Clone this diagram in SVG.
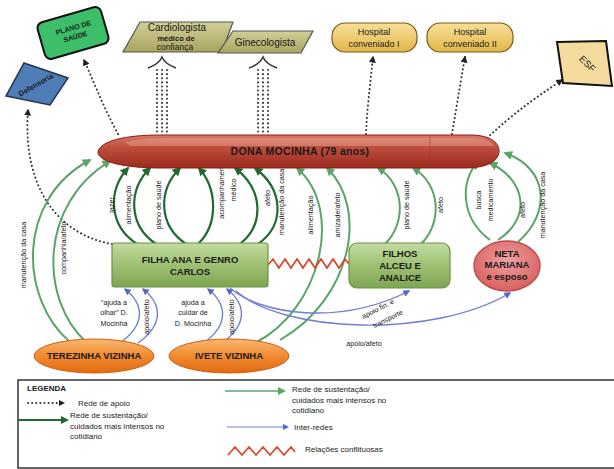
<svg xmlns="http://www.w3.org/2000/svg" width="614" height="469" viewBox="0 0 614 469">
<defs>
<style>
text{font-family:"Liberation Sans",Arial,sans-serif;fill:#1a1a1a}
.nb{font-weight:bold;font-size:9.5px;text-anchor:middle}
.lbl{font-size:7.2px;text-anchor:middle;fill:#222}
.dot{fill:none;stroke:#333;stroke-width:2;stroke-dasharray:0.1 4;stroke-linecap:round}
.dg{fill:none;stroke:#1f6a30;stroke-width:2.2}
.lg{fill:none;stroke:#5aa468;stroke-width:2}
.bl{fill:none;stroke:#6f7fd4;stroke-width:1.4}
.zz{fill:none;stroke:#e0401e;stroke-width:1.6}
.leg{font-size:8px;fill:#222}
</style>
<marker id="mk" viewBox="0 0 10 10" refX="8" refY="5" markerWidth="7" markerHeight="7" markerUnits="userSpaceOnUse" orient="auto"><path d="M0,0 L10,5 L0,10 Z" fill="#222"/></marker>
<marker id="mdg" viewBox="0 0 10 10" refX="8" refY="5" markerWidth="9" markerHeight="9" markerUnits="userSpaceOnUse" orient="auto"><path d="M0,0 L10,5 L0,10 Z" fill="#1f6a30"/></marker>
<marker id="mlg" viewBox="0 0 10 10" refX="8" refY="5" markerWidth="9" markerHeight="9" markerUnits="userSpaceOnUse" orient="auto"><path d="M0,0 L10,5 L0,10 Z" fill="#5aa468"/></marker>
<marker id="mbl" viewBox="0 0 10 10" refX="8" refY="5" markerWidth="7" markerHeight="7" markerUnits="userSpaceOnUse" orient="auto"><path d="M0,0 L10,5 L0,10 Z" fill="#5566cc"/></marker>
<linearGradient id="gRed" x1="0" y1="0" x2="0" y2="1"><stop offset="0" stop-color="#d97a68"/><stop offset="0.35" stop-color="#c0503e"/><stop offset="1" stop-color="#9a2a1e"/></linearGradient>
<linearGradient id="gGreen" x1="0" y1="0" x2="0" y2="1"><stop offset="0" stop-color="#c3dca0"/><stop offset="0.5" stop-color="#9ec072"/><stop offset="1" stop-color="#7ea552"/></linearGradient>
<linearGradient id="gOr" x1="0" y1="0" x2="0" y2="1"><stop offset="0" stop-color="#f9b870"/><stop offset="0.5" stop-color="#f08a30"/><stop offset="1" stop-color="#e06a10"/></linearGradient>
<linearGradient id="gOl" x1="0" y1="0" x2="0" y2="1"><stop offset="0" stop-color="#d2cf98"/><stop offset="1" stop-color="#a9a45e"/></linearGradient>
<linearGradient id="gHos" x1="0" y1="0" x2="0" y2="1"><stop offset="0" stop-color="#f8e09a"/><stop offset="1" stop-color="#e4b648"/></linearGradient>
<radialGradient id="gPink" cx="0.5" cy="0.4" r="0.6"><stop offset="0" stop-color="#f0a0a0"/><stop offset="1" stop-color="#d8605e"/></radialGradient>
</defs>
<rect width="614" height="469" fill="#ffffff"/>

<g id="connectors">
  <path class="dot" d="M112,244 C60,235 22,190 28,110" marker-end="url(#mk)"/>
  <path class="dot" d="M118,134 C105,110 95,85 84,60" marker-end="url(#mk)"/>
  <path class="dot" d="M366,134 C367,110 370,85 373,57" marker-end="url(#mk)"/>
  <path class="dot" d="M452,134 C456,110 460,85 465,57" marker-end="url(#mk)"/>
  <path class="dot" d="M487,138 C515,112 535,98 562,80" marker-end="url(#mk)"/>
  <g>
    <path class="dot" d="M157,70 V134 M162,70 V134 M167,70 V134"/>
    <path d="M148,68 Q159,64 162,57 Q165,64 176,68" fill="none" stroke="#333" stroke-width="1.5"/>
    <path class="dot" d="M258,70 V134 M263,70 V134 M268,70 V134"/>
    <path d="M249,68 Q260,64 263,57 Q266,64 277,68" fill="none" stroke="#333" stroke-width="1.5"/>
  </g>
  <path class="dg" d="M137,244 C108,225 108,190 128,168" marker-end="url(#mdg)"/>
  <path class="dg" d="M156,244 C128,225 128,190 150,168" marker-end="url(#mdg)"/>
  <path class="dg" d="M186,244 C158,225 158,190 180,168" marker-end="url(#mdg)"/>
  <path class="dg" d="M198,244 C218,225 218,190 199,168" marker-end="url(#mdg)"/>
  <path class="dg" d="M240,244 C264,225 264,190 235,168" marker-end="url(#mdg)"/>
  <path class="dg" d="M258,244 C285,225 284,190 255,168" marker-end="url(#mdg)"/>
  <path class="lg" d="M70,342 C20,300 15,200 90,160" marker-end="url(#mlg)"/>
  <path class="lg" d="M86,342 C40,300 38,205 110,161" marker-end="url(#mlg)"/>
  <path class="lg" d="M255,343 C320,310 345,210 297,168" marker-end="url(#mlg)"/>
  <path class="lg" d="M280,340 C350,300 370,210 327,168" marker-end="url(#mlg)"/>
  <path class="lg" d="M384,245 C406,225 406,185 378,168" marker-end="url(#mlg)"/>
  <path class="lg" d="M420,245 C442,225 442,185 413,168" marker-end="url(#mlg)"/>
  <path class="lg" d="M490,240 C460,218 460,180 478,162" marker-end="url(#mlg)"/>
  <path class="lg" d="M498,240 C532,218 526,180 490,163" marker-end="url(#mlg)"/>
  <path class="lg" d="M518,242 C552,212 548,168 505,153" marker-end="url(#mlg)"/>
  <path class="bl" d="M120,343 C145,325 145,305 125,289" marker-end="url(#mbl)"/>
  <path class="bl" d="M138,343 C163,325 163,305 143,289" marker-end="url(#mbl)"/>
  <path class="bl" d="M204,343 C228,325 228,305 208,289" marker-end="url(#mbl)"/>
  <path class="bl" d="M222,343 C247,325 247,305 227,289" marker-end="url(#mbl)"/>
  <path class="bl" d="M230,288 C262,315 340,326 409,291" marker-end="url(#mbl)"/>
  <path class="bl" d="M236,291 C282,332 430,340 510,293" marker-end="url(#mbl)"/>
  <polyline class="zz" points="268,265 273,259 279,268 285,259 291,268 297,259 303,268 309,259 315,268 321,259 327,268 333,259 339,268 345,259 349,264"/>
  <g class="lbl">
    <text transform="translate(114,205) rotate(-90)">lazer</text>
    <text transform="translate(131,205) rotate(-90)">alimentação</text>
    <text transform="translate(161,205) rotate(-90)">plano de saúde</text>
    <text transform="translate(224,190) rotate(-90)">acompanhamento</text>
    <text transform="translate(236,190) rotate(-90)">médico</text>
    <text transform="translate(270,198) rotate(-90)">afeto</text>
    <text transform="translate(284,202) rotate(-90)">manutenção da casa</text>
    <text transform="translate(313,215) rotate(-90)">alimentação</text>
    <text transform="translate(340,215) rotate(-90)">amizade/afeto</text>
    <text transform="translate(409,205) rotate(-90)">plano de saúde</text>
    <text transform="translate(443,205) rotate(-90)">afeto</text>
    <text transform="translate(481,200) rotate(-90)">busca</text>
    <text transform="translate(493,200) rotate(-90)">medicamento</text>
    <text transform="translate(525,210) rotate(-90)">afeto</text>
    <text transform="translate(545,205) rotate(-90)">manutenção da casa</text>
    <text transform="translate(26,255) rotate(-90)">manutenção da casa</text>
    <text transform="translate(66,248) rotate(-90)">companhia/afeto</text>
    <text x="114" y="305">“ajuda a</text>
    <text x="114" y="315">olhar” D.</text>
    <text x="114" y="326">Mocinha</text>
    <text transform="translate(149,317) rotate(-90)">apoio/afeto</text>
    <text x="193" y="305">ajuda a</text>
    <text x="193" y="315">cuidar de</text>
    <text x="193" y="326">D. Mocinha</text>
    <text transform="translate(234,317) rotate(-90)">apoio/afeto</text>
    <text transform="translate(379,311) rotate(-27)">apoio fin. e</text>
    <text transform="translate(389,321) rotate(-27)">transporte</text>
    <text x="364" y="346">apoio/afeto</text>
  </g>
</g>

<g id="defensoria">
  <polygon points="24,63 68,78 50,105 6,96" fill="#4f7db8" stroke="#24344f" stroke-width="1.5"/>
  <text transform="translate(37,87) rotate(-30)" text-anchor="middle" font-size="7.5" font-weight="bold">Defensoria</text>
</g>
<g id="plano-saude">
  <rect x="40" y="14" width="66" height="38" rx="6" fill="#3dbf6a" stroke="#111" stroke-width="2" transform="rotate(-16 73 33)"/>
  <text transform="translate(74,30) rotate(-16)" text-anchor="middle" font-size="7" font-weight="bold">PLANO DE</text>
  <text transform="translate(76,39) rotate(-16)" text-anchor="middle" font-size="7" font-weight="bold">SAÚDE</text>
</g>
<g id="cardiologista">
  <polygon points="140,22 233,22 222,52 123,52" fill="url(#gOl)" stroke="#555" stroke-width="1.2"/>
  <text x="177" y="31" text-anchor="middle" font-size="10">Cardiologista</text>
  <text x="176" y="41" text-anchor="middle" font-size="7.5" font-weight="bold">médico de</text>
  <text x="175" y="50" text-anchor="middle" font-size="8.5">confiança</text>
</g>
<g id="ginecologista">
  <polygon points="233,31 313,31 301,53 218,53" fill="url(#gOl)" stroke="#555" stroke-width="1.2"/>
  <text x="265" y="46" text-anchor="middle" font-size="10">Ginecologista</text>
</g>
<g id="hospital1">
  <rect x="332" y="23" width="85" height="29" rx="13" fill="url(#gHos)" stroke="#7a5a10" stroke-width="1.2"/>
  <text x="374" y="35" text-anchor="middle" font-size="9" fill="#2a2000">Hospital</text>
  <text x="374" y="47" text-anchor="middle" font-size="9" fill="#2a2000">conveniado I</text>
</g>
<g id="hospital2">
  <rect x="427" y="23" width="86" height="29" rx="13" fill="url(#gHos)" stroke="#7a5a10" stroke-width="1.2"/>
  <text x="470" y="35" text-anchor="middle" font-size="9" fill="#2a2000">Hospital</text>
  <text x="470" y="47" text-anchor="middle" font-size="9" fill="#2a2000">conveniado II</text>
</g>
<g id="esf">
  <polygon points="557,42 606,41 612,86 563,83" fill="#f5dc9e" stroke="#111" stroke-width="2"/>
  <text transform="translate(585,66) rotate(45)" text-anchor="middle" font-size="9.5">ESF</text>
</g>

<g id="dona-mocinha">
  <path d="M98,152 C100,141 125,135 160,135 L470,135 C492,135 500,144 499,152 C498,161 488,168 465,168 L160,168 C125,168 98,162 98,152 Z" fill="url(#gRed)" stroke="#8a1e14" stroke-width="1"/>
  <path d="M125,142 C140,138 160,138 180,138 L470,138 C485,138 492,142 494,146 L130,146 Z" fill="#e6a090" opacity="0.5"/>
  <line x1="430" y1="136" x2="430" y2="167" stroke="#a33" stroke-width="0.8" opacity="0.6"/>
  <text x="300" y="155" text-anchor="middle" font-size="10.5" font-weight="bold" letter-spacing="0.3">DONA MOCINHA (79 anos)</text>
</g>
<g id="filha-ana">
  <rect x="112" y="243" width="156" height="44" rx="3" fill="url(#gGreen)" stroke="#6c9244" stroke-width="1.2"/>
  <text class="nb" x="190" y="263">FILHA ANA E GENRO</text>
  <text class="nb" x="190" y="275">CARLOS</text>
</g>
<g id="filhos">
  <rect x="349" y="243" width="101" height="45" rx="8" fill="url(#gGreen)" stroke="#6c9244" stroke-width="1.2"/>
  <text class="nb" x="400" y="257">FILHOS</text>
  <text class="nb" x="400" y="269">ALCEU E</text>
  <text class="nb" x="400" y="281">ANALICE</text>
</g>
<g id="neta">
  <ellipse cx="507" cy="266" rx="33" ry="25" fill="url(#gPink)" stroke="#c0504e" stroke-width="1.5"/>
  <text class="nb" x="507" y="257" font-size="8.5">NETA</text>
  <text class="nb" x="507" y="268" font-size="8.5">MARIANA</text>
  <text class="nb" x="507" y="280" font-size="8.5">e esposo</text>
</g>
<g id="terezinha">
  <ellipse cx="94" cy="356" rx="60" ry="17" fill="url(#gOr)" stroke="#d06010" stroke-width="1"/>
  <text class="nb" x="94" y="359" font-size="9">TEREZINHA VIZINHA</text>
</g>
<g id="ivete">
  <ellipse cx="229" cy="356" rx="60" ry="17" fill="url(#gOr)" stroke="#d06010" stroke-width="1"/>
  <text class="nb" x="229" y="359" font-size="9">IVETE VIZINHA</text>
</g>

<g id="legend">
  <rect x="18" y="380" width="600" height="88" fill="#fff" stroke="#333" stroke-width="1.5"/>
  <text x="27" y="391" font-size="8" font-weight="bold">LEGENDA</text>
  <path class="dot" d="M28,403 H58" stroke-width="1.5" stroke-dasharray="3 3"/>
  <path d="M59,400 L65,403 L59,406 Z" fill="#222"/>
  <text class="leg" x="78" y="406">Rede de apoio</text>
  <path d="M18,420 H62" stroke="#1f6a30" stroke-width="1.8" fill="none"/>
  <path d="M61,416 L69,420 L61,424 Z" fill="#1f6a30"/>
  <text class="leg" x="70" y="418">Rede de sustentação/</text>
  <text class="leg" x="70" y="429">cuidados mais intensos no</text>
  <text class="leg" x="70" y="439">cotidiano</text>
  <path d="M225,391 H279" stroke="#5aa468" stroke-width="1.5" fill="none"/>
  <path d="M278,387 L286,391 L278,395 Z" fill="#5aa468"/>
  <text class="leg" x="292" y="392">Rede de sustentação/</text>
  <text class="leg" x="292" y="403">cuidados mais intensos no</text>
  <text class="leg" x="292" y="413">cotidiano</text>
  <path d="M227,427 H283" stroke="#6f7fd4" stroke-width="1" fill="none"/>
  <path d="M283,424 L289,427 L283,430 Z" fill="#5566cc"/>
  <text class="leg" x="294" y="430">Inter-redes</text>
  <polyline class="zz" points="228,455 235,447 242,455 249,447 256,455 263,447 270,455 277,447 284,455 291,447 295,452"/>
  <text class="leg" x="305" y="452">Relações conflituosas</text>
</g>
</svg>
